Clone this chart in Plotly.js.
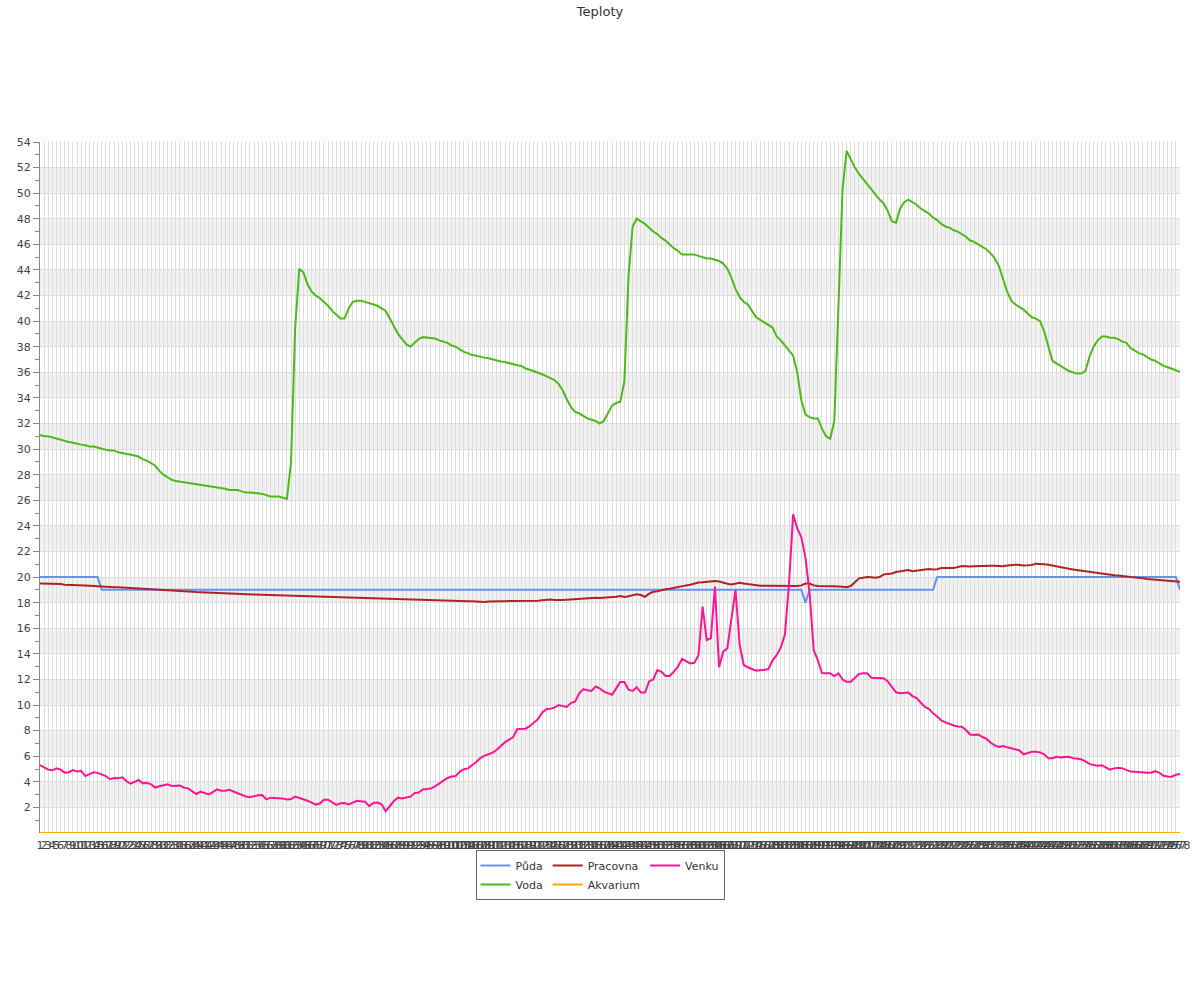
<!DOCTYPE html>
<html>
<head>
<meta charset="utf-8">
<script src="https://cdn.plot.ly/plotly-3.0.1.min.js"></script>
<style>html,body{margin:0;padding:0;background:#fff}#chart{width:1200px;height:1000px}</style>
</head>
<body>
<div id="chart"></div>
<script>
const categories = [
1,2,3,4,5,6,7,8,9,10,11,12,13,14,15,16,17,18,19,20,
21,22,23,24,25,26,27,28,29,30,31,32,33,34,35,36,37,38,39,40,
41,42,43,44,45,46,47,48,49,50,51,52,53,54,55,56,57,58,59,60,
61,62,63,64,65,66,67,68,69,70,71,72,73,74,75,76,77,78,79,80,
81,82,83,84,85,86,87,88,89,90,91,92,93,94,95,96,97,98,99,100,
101,102,103,104,105,106,107,108,109,110,111,112,113,114,115,116,117,118,119,120,
121,122,123,124,125,126,127,128,129,130,131,132,133,134,135,136,137,138,139,140,
141,142,143,144,145,146,147,148,149,150,151,152,153,154,155,156,157,158,159,160,
161,162,163,164,165,166,167,168,169,170,171,172,173,174,175,176,177,178,179,180,
181,182,183,184,185,186,187,188,189,190,191,192,193,194,195,196,197,198,199,200,
201,202,203,204,205,206,207,208,209,210,211,212,213,214,215,216,217,218,219,220,
221,222,223,224,225,226,227,228,229,230,231,232,233,234,235,236,237,238,239,240,
241,242,243,244,245,246,247,248,249,250,251,252,253,254,255,256,257,258,259,260,
261,262,263,264,265,266,267,268,269,270,271,272,273,274,275,276,277,278
];

const puda = [
20,20,20,20,20,20,20,20,20,20,
20,20,20,20,20,19,19,19,19,19,
19,19,19,19,19,19,19,19,19,19,
19,19,19,19,19,19,19,19,19,19,
19,19,19,19,19,19,19,19,19,19,
19,19,19,19,19,19,19,19,19,19,
19,19,19,19,19,19,19,19,19,19,
19,19,19,19,19,19,19,19,19,19,
19,19,19,19,19,19,19,19,19,19,
19,19,19,19,19,19,19,19,19,19,
19,19,19,19,19,19,19,19,19,19,
19,19,19,19,19,19,19,19,19,19,
19,19,19,19,19,19,19,19,19,19,
19,19,19,19,19,19,19,19,19,19,
19,19,19,19,19,19,19,19,19,19,
19,19,19,19,19,19,19,19,19,19,
19,19,19,19,19,19,19,19,19,19,
19,19,19,19,19,19,19,19,19,19,
19,19,19,19,19,19,18,19,19,19,
19,19,19,19,19,19,19,19,19,19,
19,19,19,19,19,19,19,19,19,19,
19,19,19,19,19,19,19,19,20,20,
20,20,20,20,20,20,20,20,20,20,
20,20,20,20,20,20,20,20,20,20,
20,20,20,20,20,20,20,20,20,20,
20,20,20,20,20,20,20,20,20,20,
20,20,20,20,20,20,20,20,20,20,
20,20,20,20,20,20,20,19
];

const voda = [
31.1,31.0,31.0,30.9,30.8,30.7,30.6,30.55,30.5,30.4,
30.35,30.3,30.2,30.2,30.1,30.0,29.95,29.9,29.9,29.75,
29.7,29.65,29.6,29.5,29.4,29.2,29.1,28.9,28.7,28.3,
28.0,27.8,27.6,27.5,27.45,27.4,27.35,27.3,27.3,27.2,
27.2,27.15,27.1,27.0,26.95,26.9,26.8,26.8,26.8,26.7,
26.6,26.6,26.6,26.55,26.5,26.4,26.3,26.3,26.3,26.2,
26.1,29.0,39.5,44.1,43.8,42.9,42.3,42.0,41.8,41.5,
41.2,40.8,40.5,40.2,40.2,41.0,41.5,41.6,41.6,41.5,
41.4,41.3,41.2,41.0,40.8,40.2,39.6,39.0,38.6,38.2,
38.0,38.3,38.6,38.75,38.7,38.7,38.65,38.5,38.4,38.3,
38.1,38.0,37.8,37.6,37.5,37.35,37.3,37.2,37.15,37.1,
37.0,36.9,36.85,36.8,36.7,36.6,36.55,36.5,36.3,36.2,
36.1,36.0,35.85,35.7,35.55,35.4,35.1,34.6,33.9,33.3,
32.9,32.8,32.6,32.4,32.3,32.2,32.0,32.2,32.8,33.4,
33.6,33.7,35.3,43.5,47.4,48.0,47.8,47.6,47.3,47.0,
46.8,46.5,46.3,46.0,45.7,45.5,45.2,45.2,45.2,45.2,
45.1,45.0,44.9,44.9,44.8,44.7,44.5,44.1,43.4,42.5,
41.9,41.5,41.3,40.8,40.3,40.1,39.9,39.7,39.5,38.8,
38.5,38.1,37.7,37.3,36.0,33.8,32.7,32.5,32.4,32.4,
31.6,31.0,30.8,32.2,41.0,50.3,53.3,52.6,52.0,51.5,
51.1,50.7,50.3,49.9,49.5,49.2,48.6,47.8,47.7,48.8,
49.3,49.5,49.3,49.1,48.8,48.6,48.4,48.1,47.9,47.6,
47.4,47.3,47.1,47.0,46.8,46.6,46.3,46.2,46.0,45.8,
45.6,45.3,44.9,44.3,43.3,42.3,41.6,41.3,41.1,40.9,
40.6,40.3,40.2,40.0,39.2,38.1,36.9,36.7,36.5,36.3,
36.1,36.0,35.9,35.9,36.1,37.2,38.0,38.5,38.8,38.8,
38.7,38.7,38.6,38.4,38.3,37.9,37.7,37.5,37.4,37.2,
37.0,36.9,36.7,36.5,36.4,36.3,36.2,36.05
];

const pracovna = [
19.5,19.5,19.5,19.48,19.45,19.45,19.4,19.4,19.38,19.35,
19.35,19.35,19.33,19.3,19.3,19.28,19.25,19.22,19.2,19.2,
19.18,19.15,19.12,19.1,19.07,19.04,19.02,19.0,19.0,18.98,
18.95,18.93,18.92,18.9,18.88,18.87,18.86,18.85,18.83,18.82,
18.8,18.78,18.76,18.74,18.73,18.72,18.71,18.7,18.68,18.67,
18.66,18.65,18.64,18.63,18.62,18.6,18.6,18.58,18.57,18.56,
18.55,18.53,18.52,18.5,18.5,18.48,18.47,18.46,18.45,18.44,
18.42,18.41,18.4,18.4,18.4,18.38,18.37,18.36,18.35,18.34,
18.32,18.31,18.3,18.29,18.28,18.27,18.25,18.24,18.23,18.22,
18.21,18.2,18.19,18.18,18.17,18.16,18.15,18.15,18.15,18.14,
18.14,18.13,18.13,18.12,18.12,18.12,18.1,18.08,18.05,18.1,
18.12,18.12,18.12,18.12,18.12,18.13,18.13,18.13,18.14,18.14,
18.15,18.15,18.18,18.2,18.25,18.2,18.18,18.2,18.22,18.25,
18.28,18.3,18.3,18.32,18.35,18.38,18.36,18.38,18.4,18.45,
18.47,18.52,18.45,18.5,18.55,18.65,18.6,18.45,18.7,18.85,
18.9,19.0,19.05,19.08,19.15,19.25,19.3,19.35,19.4,19.5,
19.58,19.6,19.62,19.65,19.7,19.65,19.55,19.48,19.43,19.5,
19.55,19.5,19.45,19.38,19.35,19.33,19.33,19.33,19.33,19.3,
19.28,19.33,19.3,19.3,19.3,19.35,19.5,19.5,19.35,19.3,
19.28,19.28,19.28,19.28,19.28,19.25,19.2,19.3,19.6,19.9,
19.95,20.0,19.98,19.95,20.0,20.2,20.25,20.28,20.4,20.45,
20.48,20.55,20.45,20.5,20.55,20.6,20.63,20.6,20.62,20.7,
20.72,20.7,20.7,20.8,20.87,20.85,20.82,20.85,20.87,20.88,
20.88,20.88,20.88,20.85,20.85,20.9,20.95,20.97,20.95,20.9,
20.92,20.95,21.05,21.0,21.0,20.97,20.9,20.82,20.75,20.68,
20.65,20.6,20.55,20.5,20.45,20.42,20.38,20.33,20.3,20.25,
20.2,20.15,20.12,20.1,20.05,20.0,19.98,19.95,19.9,19.85,
19.82,19.78,19.75,19.72,19.68,19.66,19.65,19.64
];

const akvarium = [
0,0,0,0,0,0,0,0,0,0, 0,0,0,0,0,0,0,0,0,0, 0,0,0,0,0,0,0,0,0,0,
0,0,0,0,0,0,0,0,0,0, 0,0,0,0,0,0,0,0,0,0, 0,0,0,0,0,0,0,0,0,0,
0,0,0,0,0,0,0,0,0,0, 0,0,0,0,0,0,0,0,0,0, 0,0,0,0,0,0,0,0,0,0,
0,0,0,0,0,0,0,0,0,0, 0,0,0,0,0,0,0,0,0,0, 0,0,0,0,0,0,0,0,0,0,
0,0,0,0,0,0,0,0,0,0, 0,0,0,0,0,0,0,0,0,0, 0,0,0,0,0,0,0,0,0,0,
0,0,0,0,0,0,0,0,0,0, 0,0,0,0,0,0,0,0,0,0, 0,0,0,0,0,0,0,0,0,0,
0,0,0,0,0,0,0,0,0,0, 0,0,0,0,0,0,0,0,0,0, 0,0,0,0,0,0,0,0,0,0,
0,0,0,0,0,0,0,0,0,0, 0,0,0,0,0,0,0,0,0,0, 0,0,0,0,0,0,0,0,0,0,
0,0,0,0,0,0,0,0,0,0, 0,0,0,0,0,0,0,0,0,0, 0,0,0,0,0,0,0,0,0,0,
0,0,0,0,0,0,0,0
];

const venku = [
5.3,5.15,4.95,4.9,5.05,4.95,4.72,4.75,4.92,4.8,
4.85,4.45,4.6,4.74,4.7,4.6,4.45,4.2,4.3,4.27,
4.35,4.05,3.85,4.0,4.14,3.88,3.93,3.8,3.55,3.65,
3.72,3.8,3.67,3.72,3.72,3.54,3.49,3.25,3.05,3.23,
3.12,3.02,3.2,3.41,3.3,3.3,3.38,3.25,3.1,2.95,
2.85,2.79,2.87,2.95,2.97,2.63,2.76,2.75,2.73,2.7,
2.62,2.65,2.84,2.75,2.65,2.52,2.37,2.22,2.3,2.6,
2.6,2.4,2.2,2.32,2.35,2.24,2.4,2.52,2.48,2.45,
2.1,2.35,2.38,2.24,1.7,2.15,2.5,2.76,2.7,2.78,
2.84,3.12,3.17,3.4,3.45,3.47,3.65,3.85,4.09,4.3,
4.42,4.45,4.8,4.99,5.05,5.27,5.55,5.85,6.05,6.15,
6.28,6.5,6.8,7.1,7.3,7.5,8.13,8.14,8.15,8.35,
8.6,8.9,9.4,9.68,9.71,9.8,10.0,9.9,9.85,10.15,
10.26,10.9,11.25,11.15,11.1,11.45,11.3,11.05,10.9,10.8,
11.3,11.8,11.8,11.2,11.1,11.4,10.97,10.97,11.85,12.0,
12.74,12.6,12.27,12.27,12.6,13.0,13.6,13.45,13.25,13.3,
13.9,17.7,15.08,15.21,19.25,12.95,14.17,14.43,16.7,19.0,
14.7,13.13,12.95,12.85,12.69,12.72,12.74,12.82,13.5,13.9,
14.5,15.5,19.5,24.9,23.8,23.1,21.5,18.75,14.3,13.5,
12.5,12.48,12.48,12.27,12.48,12.0,11.82,11.82,12.1,12.43,
12.48,12.48,12.14,12.14,12.14,12.1,11.85,11.4,11.0,10.92,
10.95,10.97,10.7,10.55,10.2,9.85,9.7,9.35,9.1,8.8,
8.65,8.5,8.4,8.33,8.31,8.05,7.7,7.65,7.7,7.5,
7.35,7.05,6.85,6.72,6.8,6.7,6.6,6.5,6.45,6.15,
6.25,6.35,6.35,6.3,6.15,5.85,5.85,5.96,5.91,5.95,
5.96,5.85,5.78,5.76,5.6,5.4,5.32,5.26,5.3,5.15,
4.95,5.05,5.1,5.05,4.95,4.8,4.78,4.74,4.72,4.71,
4.71,4.83,4.7,4.47,4.42,4.4,4.55,4.61
];

const yTickVals = [2,4,6,8,10,12,14,16,18,20,22,24,26,28,30,32,34,36,38,40,42,44,46,48,50,52,54];
const bandLowerEdges = [2,6,10,14,18,22,26,30,34,38,42,46,50];

const FONT = '"DejaVu Sans", Verdana, sans-serif';

const seriesDefs = [
  {name: 'Půda', y: puda, color: '#6495ED', group: 'g1'},
  {name: 'Voda', y: voda, color: '#4CBB17', group: 'g1'},
  {name: 'Pracovna', y: pracovna, color: '#B22222', group: 'g2'},
  {name: 'Akvarium', y: akvarium, color: '#FFA500', group: 'g2'},
  {name: 'Venku', y: venku, color: '#FF1493', group: 'g3'}
];

const data = seriesDefs.map(s => ({
  type: 'scatter',
  mode: 'lines',
  name: s.name,
  legendgroup: s.group,
  x: categories.map(String),
  y: s.y,
  line: {color: s.color, width: 2},
  hoverinfo: 'skip'
}));

const shapes = bandLowerEdges.map(b => ({
  type: 'rect', xref: 'paper', yref: 'y',
  x0: 0, x1: 1, y0: b, y1: b + 2,
  fillcolor: '#f2f2f2', line: {width: 0}, layer: 'below'
}));

const layout = {
  width: 1200, height: 1000,
  margin: {l: 40, r: 20, t: 142, b: 167, pad: 0},
  paper_bgcolor: '#ffffff',
  plot_bgcolor: 'rgba(0,0,0,0)',
  font: {family: FONT, size: 11, color: '#444'},
  title: {
    text: 'Teploty',
    font: {family: FONT, size: 13, color: '#333'},
    x: 0.5, xref: 'container', xanchor: 'center',
    y: 0.989, yref: 'container', yanchor: 'middle'
  },
  showlegend: true,
  legend: {
    orientation: 'h',
    traceorder: 'grouped',
    xref: 'container', x: 0.5, xanchor: 'center',
    yref: 'container', y: 0.15, yanchor: 'top',
    bgcolor: '#ffffff', bordercolor: '#666', borderwidth: 1,
    font: {family: FONT, size: 11, color: '#333'},
    tracegroupgap: 0,
    itemwidth: 30
  },
  xaxis: {
    type: 'category',
    range: [0, categories.length - 1],
    tickmode: 'linear', tick0: 0, dtick: 1,
    tickangle: 0,
    ticklabelstandoff: 4,
    showgrid: true, gridcolor: '#dddddd', gridwidth: 1,
    showline: false, zeroline: false,
    ticks: '',
    tickfont: {family: FONT, size: 11, color: '#444'},
    fixedrange: true
  },
  yaxis: {
    range: [0, 54],
    tickmode: 'array', tickvals: yTickVals, ticktext: yTickVals.map(String),
    showgrid: true, gridcolor: '#dddddd', gridwidth: 1,
    zeroline: false,
    showline: true, linecolor: '#888', linewidth: 1,
    ticks: 'outside', ticklen: 6, tickcolor: '#888', tickwidth: 1,
    tickfont: {family: FONT, size: 11, color: '#444'},
    minor: {tickmode: 'linear', tick0: 1, dtick: 2, ticks: 'outside', ticklen: 4, tickcolor: '#888', showgrid: false},
    fixedrange: true
  },
  shapes: shapes
};

Plotly.newPlot('chart', data, layout, {staticPlot: true, displayModeBar: false});
</script>
</body>
</html>
